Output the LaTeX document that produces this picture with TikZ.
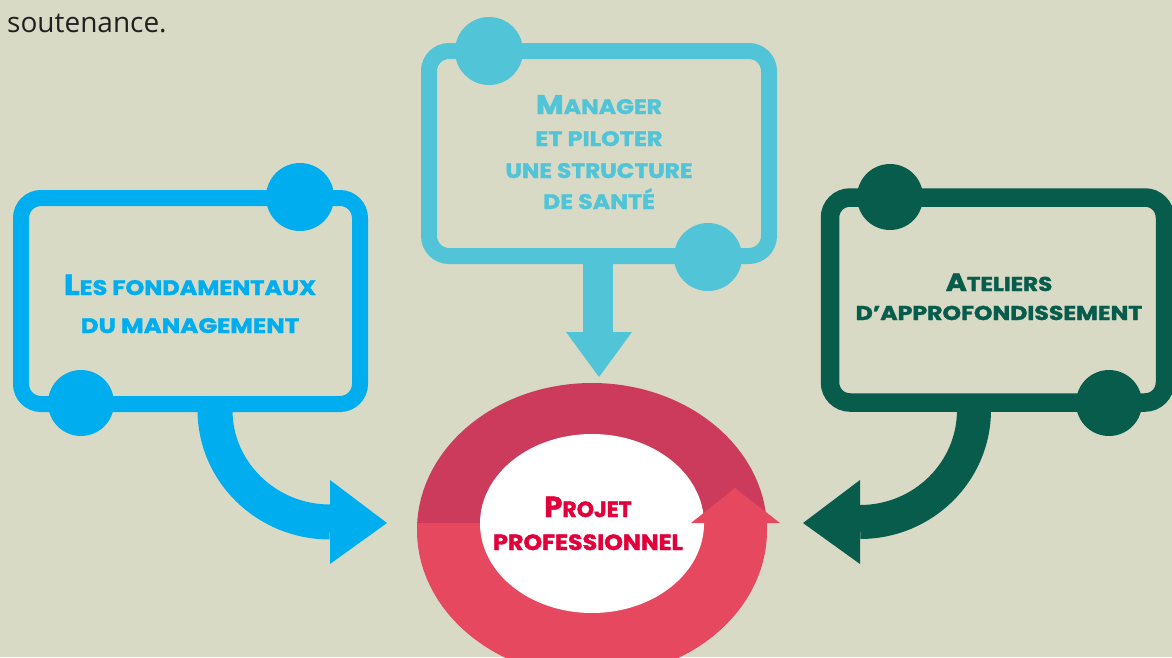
\documentclass[tikz,border=0pt]{standalone}
\usepackage{fontspec}
\newfontfamily\hf{Poppins}[BoldFeatures={FakeBold=1.6}]
\newfontfamily\bodyf{Open Sans}
\definecolor{bg}{HTML}{D9DAC6}
\definecolor{cblue}{HTML}{00AEEF}
\definecolor{cteal}{HTML}{51C5D7}
\definecolor{cgreen}{HTML}{085C4C}
\definecolor{ringdark}{HTML}{CC3A5C}
\definecolor{ringlight}{HTML}{E5485F}
\definecolor{cred}{HTML}{E2003A}
\definecolor{ctext}{HTML}{231F20}
\newcommand{\hsz}[1]{\fontsize{#1}{#1}\selectfont}
\newcommand{\hstretch}[2]{\scalebox{#1}[1]{#2}}
\tikzset{
  frame/.style={line width=#1, rounded corners=20pt},
  head/.style={font=\hf\bfseries, anchor=base, inner sep=0pt},
}
\begin{document}
\begin{tikzpicture}[x=1pt,y=1pt]
\fill[bg] (0,0) rectangle (1172,-657);
\useasboundingbox (0,0) rectangle (1172,-657);

\node[font=\bodyf\hsz{28}, text=ctext, anchor=base west, inner sep=0pt] (sout) at (7,-32) {soutenance.};

% ---------- ring ----------
\begin{scope}
  \clip (380,-300) rectangle (800,-523);
  \fill[ringdark] (592,-530) ellipse [x radius=175, y radius=147];
\end{scope}
\begin{scope}
  \clip (380,-523) rectangle (800,-700);
  \fill[ringlight] (592,-530) ellipse [x radius=175, y radius=147];
\end{scope}
\fill[white] (592,-523.5) ellipse [x radius=112, y radius=89.5];
\fill[ringlight] (691,-523) -- (735,-488) -- (780,-523) -- cycle;
\node[head, text=cred] (p1) at (588,-517) {{\hsz{29}P}\hsz{22}ROJET};
\node[head, text=cred] (p2) at (588,-550) {\hstretch{1.08}{\hsz{22}PROFESSIONNEL}};

% ---------- left box ----------
\coordinate (La) at (215,-404);
\coordinate (Lb) at (330,-522);
\draw[cblue, line width=35pt] (La) -- (215,-410) arc[start angle=180, end angle=270, x radius=115, y radius=112] -- (Lb);
\fill[cblue] (330,-480) -- (387,-523) -- (330,-564) -- cycle;
\draw[cblue, frame=16pt] (21,-198) rectangle (360,-404);
\fill[cblue] (300,-197) circle (34);
\fill[cblue] (81,-403) circle (33);
\node[head, text=cblue] (l1) at (190,-295) {\hstretch{1.14}{{\hsz{29}L}\hsz{21}ES FONDAMENTAUX}};
\node[head, text=cblue] (l2) at (190,-333) {\hstretch{1.17}{\hsz{21}DU MANAGEMENT}};

% ---------- top box ----------
\coordinate (Ta) at (598,-256);
\coordinate (Tb) at (598,-332);
\draw[cteal, line width=30pt] (Ta) -- (Tb);
\fill[cteal] (566,-332) -- (632,-332) -- (599,-377) -- cycle;
\draw[cteal, frame=16pt] (429,-51) rectangle (769,-256);
\fill[cteal] (489,-51) circle (34);
\fill[cteal] (708,-257) circle (34);
\node[head, text=cteal] (t1) at (599,-114) {\hstretch{1.12}{{\hsz{27}M}\hsz{21}ANAGER}};
\node[head, text=cteal] (t2) at (599,-146) {\hstretch{1.14}{\hsz{21}ET PILOTER}};
\node[head, text=cteal] (t3) at (599,-178) {\hstretch{1.11}{\hsz{21}UNE STRUCTURE}};
\node[head, text=cteal] (t4) at (599,-209) {\hstretch{1.13}{\hsz{21}DE SANTÉ}};

% ---------- right box ----------
\coordinate (Ra) at (974,-403);
\coordinate (Rb) at (860,-522);
\draw[cgreen, line width=34pt] (Ra) -- (974,-410) arc[start angle=0, end angle=-90, x radius=114, y radius=112] -- (Rb);
\fill[cgreen] (860,-480) -- (803,-523) -- (860,-564) -- cycle;
\draw[cgreen, frame=18.5pt] (830,-197.5) rectangle (1165,-402.5);
\fill[cgreen] (890,-197) circle (33);
\fill[cgreen] (1109,-403) circle (33);
\node[head, text=cgreen] (r1) at (999,-291) {\hstretch{1.15}{{\hsz{25}A}\hsz{20}TELIERS}};
\node[head, text=cgreen] (r2) at (999,-320) {\hstretch{1.18}{\hsz{20}D’APPROFONDISSEMENT}};
\end{tikzpicture}
\end{document}
